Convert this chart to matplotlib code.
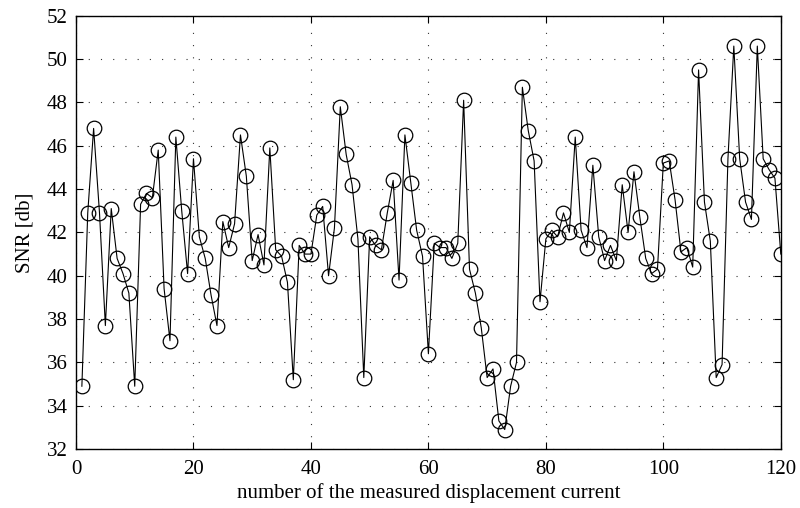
import matplotlib
matplotlib.use("Agg")
import matplotlib.pyplot as plt
import numpy as np

nummer = np.arange(1, 121)
snr = [
    34.9, 42.9, 46.8, 42.9, 37.7, 43.1, 40.8, 40.1, 39.2, 34.9,
    43.3, 43.8, 43.6, 45.8, 39.4, 37.0, 46.4, 43.0, 40.1, 45.4,
    41.8, 40.8, 39.1, 37.7, 42.5, 41.3, 42.4, 46.5, 44.6, 40.7,
    41.9, 40.5, 45.9, 41.2, 40.9, 39.7, 35.2, 41.4, 41.0, 41.0,
    42.8, 43.2, 40.0, 42.2, 47.8, 45.6, 44.2, 41.7, 35.3, 41.8,
    41.4, 41.2, 42.9, 44.4, 39.8, 46.5, 44.3, 42.1, 40.9, 36.4,
    41.5, 41.3, 41.3, 40.8, 41.5, 48.1, 40.3, 39.2, 37.6, 35.3,
    35.7, 33.3, 32.9, 34.9, 36.0, 48.7, 46.7, 45.3, 38.8, 41.7,
    42.1, 41.8, 42.9, 42.0, 46.4, 42.1, 41.3, 45.1, 41.8, 40.7,
    41.4, 40.7, 44.2, 42.0, 44.8, 42.7, 40.8, 40.1, 40.3, 45.2,
    45.3, 43.5, 41.1, 41.3, 40.4, 49.5, 43.4, 41.6, 35.3, 35.9,
    45.4, 50.6, 45.4, 43.4, 42.6, 50.6, 45.4, 44.9, 44.5, 41.0,
]

plt.rcParams['font.family'] = ['Liberation Serif', 'DejaVu Serif']
plt.rcParams['font.size'] = 15

fig = plt.figure(figsize=(8, 5.08), dpi=100)
ax = fig.add_axes([0.095, 0.116, 0.881, 0.853])

ax.plot(nummer, snr, color='black', linewidth=0.8, marker='o', markersize=10.5,
        markerfacecolor='none', markeredgecolor='black', markeredgewidth=0.9)

ax.set_xlim(0, 120)
ax.set_ylim(32, 52)
ax.set_xticks(np.arange(0, 121, 20))
ax.set_yticks(np.arange(32, 53, 2))
ax.grid(True, linestyle=(0, (1, 10)), color='black', linewidth=0.8, alpha=0.8)
ax.tick_params(direction='in', top=True, right=True, length=5, width=0.8)
ax.tick_params(axis='x', pad=8)
ax.tick_params(axis='y', pad=6)
for s in ax.spines.values():
    s.set_linewidth(1.0)

ax.set_xlabel('number of the measured displacement current', labelpad=3)
ax.set_ylabel('SNR [db]', labelpad=9)

fig.savefig('out.png', dpi=100)
